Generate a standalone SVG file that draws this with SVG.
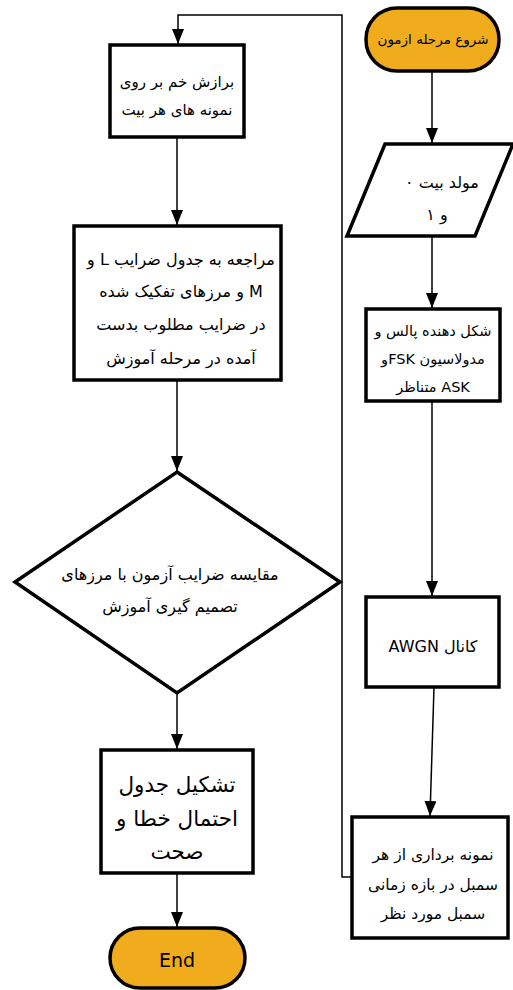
<svg xmlns="http://www.w3.org/2000/svg" width="513" height="990" viewBox="0 0 513 990">
<style>
.box{fill:#fff;stroke:#000;stroke-width:3.5}
.term{fill:#F0AC1C;stroke:#000;stroke-width:3.5}
.conn{fill:none;stroke:#000;stroke-width:1.5;marker-end:url(#arr)}
.t{font-family:"DejaVu Sans","Noto Sans",sans-serif;direction:rtl;text-anchor:middle;fill:#000}
</style>
<defs>
<marker id="arr" viewBox="0 0 15 12" markerWidth="15" markerHeight="12" markerUnits="userSpaceOnUse" refX="15" refY="6" orient="auto">
<path d="M0,0 L15,6 L0,12 z" fill="#000"/>
</marker>
</defs>
<rect width="513" height="990" fill="#fff"/>
<g id="connectors">
<line class="conn" x1="432" y1="71" x2="432" y2="143"/>
<line class="conn" x1="432" y1="236" x2="432" y2="308"/>
<line class="conn" x1="432" y1="401" x2="432" y2="596"/>
<line class="conn" x1="434" y1="687" x2="430" y2="816"/>
<polyline class="conn" points="352,877 342,877 342,15 178,15 178,44"/>
<line class="conn" x1="177" y1="137" x2="177" y2="225"/>
<line class="conn" x1="177" y1="380" x2="177" y2="471"/>
<line class="conn" x1="177" y1="693" x2="177" y2="749"/>
<line class="conn" x1="177" y1="873" x2="177" y2="927"/>
</g>
<g id="start">
<rect class="term" x="366" y="8" width="133" height="63" rx="31" ry="31"/>
<text class="t" x="433" y="44" font-size="13.5">شروع مرحله ازمون</text>
</g>
<g id="bitgen">
<polygon class="box" points="385,144 513,144 475,236 347,236"/>
<text class="t" x="442" y="188" font-size="16">مولد بیت ۰</text>
<text class="t" x="437" y="220" font-size="16">و ۱</text>
</g>
<g id="pulse">
<rect class="box" x="366" y="309" width="134" height="92"/>
<text class="t" x="433" y="336" font-size="14.5">شکل دهنده پالس و</text>
<text class="t" x="433" y="364" font-size="14.5">مدولاسیون FSKو</text>
<text class="t" x="433" y="392" font-size="14.5">ASK متناظر</text>
</g>
<g id="channel">
<rect class="box" x="366" y="597" width="133" height="90"/>
<text class="t" x="433" y="652" font-size="16">کانال AWGN</text>
</g>
<g id="sampling">
<rect class="box" x="352" y="817" width="156" height="121"/>
<text class="t" x="433" y="860" font-size="15.5">نمونه برداری از هر</text>
<text class="t" x="433" y="890" font-size="15.5">سمبل در بازه زمانی</text>
<text class="t" x="433" y="919" font-size="15.5">سمبل  مورد نظر</text>
</g>
<g id="fit">
<rect class="box" x="110" y="45" width="134" height="92"/>
<text class="t" x="177" y="87" font-size="15">برازش خم بر روی</text>
<text class="t" x="177" y="115" font-size="15">نمونه های هر بیت</text>
</g>
<g id="lookup">
<rect class="box" x="74" y="226" width="207" height="154"/>
<text class="t" x="181" y="265" font-size="16">مراجعه به جدول ضرایب L و</text>
<text class="t" x="181" y="297" font-size="16">M  و مرزهای تفکیک شده</text>
<text class="t" x="181" y="330" font-size="16">در ضرایب مطلوب بدست</text>
<text class="t" x="181" y="364" font-size="16">آمده در  مرحله آموزش</text>
</g>
<g id="compare">
<polygon class="box" points="177,472 340,582 177,693 15,582"/>
<text class="t" x="170" y="580" font-size="16">مقایسه ضرایب  آزمون با مرزهای</text>
<text class="t" x="170" y="612" font-size="16">تصمیم گیری آموزش</text>
</g>
<g id="table">
<rect class="box" x="101" y="750" width="152" height="123"/>
<text class="t" x="177" y="792" font-size="21.5">تشکیل جدول</text>
<text class="t" x="177" y="826" font-size="21.5">احتمال خطا و</text>
<text class="t" x="177" y="859" font-size="21.5">صحت</text>
</g>
<g id="end">
<rect class="term" x="110" y="928" width="135" height="60" rx="30" ry="30"/>
<text class="t" x="177" y="967" font-size="19" style="direction:ltr">End</text>
</g>
</svg>
